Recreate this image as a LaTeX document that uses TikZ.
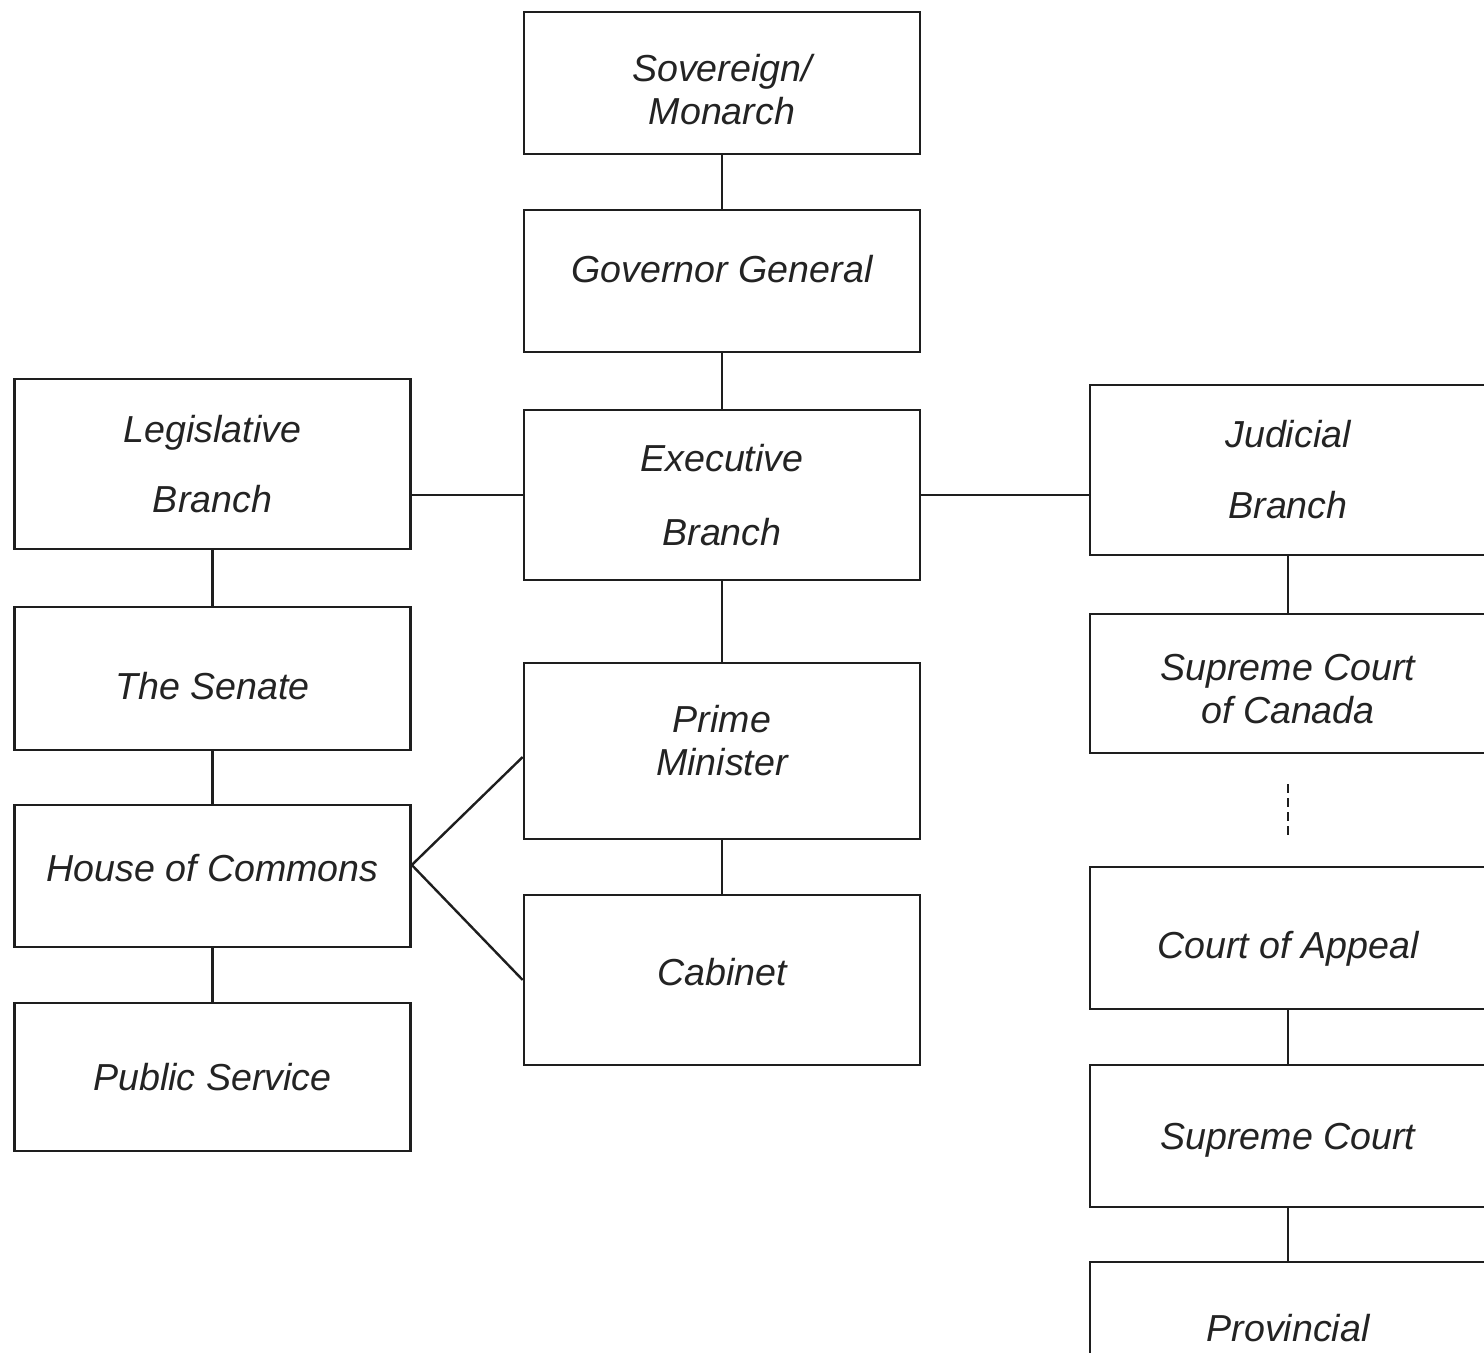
\documentclass[tikz,border=0pt]{standalone}
\usepackage{fontspec}
\setmainfont{Liberation Sans}
\usepackage{tikz}
\usetikzlibrary{positioning}
\definecolor{boxline}{RGB}{30,30,30}
\definecolor{boxtext}{RGB}{35,35,35}
% shift a line of text without changing the box size
\newcommand{\liftby}[2]{\raisebox{#1}[\height][\depth]{#2}}

\tikzset{
  govbox/.style={draw=boxline, line width=1.3pt, minimum width=198pt, align=center,
    text=boxtext, font=\fontsize{18.8}{21.5}\selectfont\itshape, inner sep=0pt},
  link/.style={draw=boxline, line width=1.2pt}
}

\begin{document}
\begin{tikzpicture}[x=0.5pt, y=-0.5pt]
    \useasboundingbox (0,0) rectangle (1484,1353);
    \clip (0,0) rectangle (1484,1353);
    % Nodes: centre column
    \node[govbox, minimum height=71pt] (sov) at (722,83) {\liftby{-3.5pt}{Sovereign/}\\\liftby{-3.5pt}{Monarch}};
    \node[govbox, minimum height=71pt] (gg) at (722,281) {\liftby{6pt}{Governor General}};
    \node[govbox, minimum height=85pt] (exec) at (722,495) {Executive\\[15.5pt]Branch};
    \node[govbox, minimum height=88pt] (pm) at (722,751) {\liftby{5pt}{Prime}\\\liftby{5pt}{Minister}};
    \node[govbox, minimum height=85pt] (cab) at (722,980) {\liftby{4pt}{Cabinet}};
    % Nodes: left column
    \node[govbox, minimum height=85pt] (leg) at (212.5,464) {Legislative\\[13.5pt]Branch};
    \node[govbox, minimum height=71.5pt] (senate) at (212.5,678.5) {\liftby{-4pt}{The Senate}};
    \node[govbox, minimum height=71pt] (hoc) at (212.5,876) {\liftby{4pt}{House of Commons}};
    \node[govbox, minimum height=74pt] (pubserv) at (212.5,1077) {Public Service};
    % Nodes: right column
    \node[govbox, minimum height=85pt] (jud) at (1288,470) {Judicial\\[14pt]Branch};
    \node[govbox, minimum height=69.5pt] (scc) at (1288,683.5) {\liftby{-3pt}{Supreme Court}\\\liftby{-3pt}{of Canada}};
    \node[govbox, minimum height=71pt] (appeal) at (1288,938) {\liftby{-5.5pt}{Court of Appeal}};
    \node[govbox, minimum height=71pt] (supreme) at (1288,1136) {\liftby{-2pt}{Supreme Court}};
    \node[govbox, minimum height=71pt] (prov) at (1288,1333) {\liftby{2.5pt}{Provincial}};

    % Edges
    \draw[link] (sov) -- (gg);
    \draw[link] (gg) -- (exec);
    \draw[link] (exec) -- (pm);
    \draw[link] (pm) -- (cab);
    \draw[link] (exec.west) -- (exec.west -| leg.east);
    \draw[link] (exec.east) -- (exec.east -| jud.west);
    \draw[link] (leg) -- (senate);
    \draw[link] (senate) -- (hoc);
    \draw[link] (hoc) -- (pubserv);
    \draw[link] ([yshift=5.5pt]hoc.east) -- ([yshift=-3pt]pm.west);
    \draw[link] ([yshift=5.5pt]hoc.east) -- (cab.west);
    \draw[link] (jud) -- (scc);
    \draw[link, dash pattern=on 4.5pt off 2.5pt] ([yshift=-15pt]scc.south) -- ([yshift=13.5pt]appeal.north);
    \draw[link] (appeal) -- (supreme);
    \draw[link] (supreme) -- (prov);
\end{tikzpicture}
\end{document}
